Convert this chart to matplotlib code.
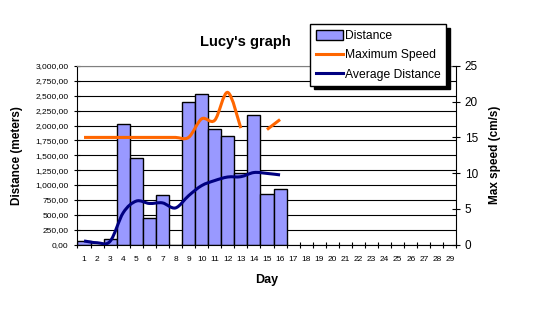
import numpy as np
import matplotlib.pyplot as plt
from matplotlib.path import Path
from matplotlib.patches import PathPatch, Patch
from matplotlib.lines import Line2D

plt.rcParams['font.family'] = ['Liberation Sans', 'DejaVu Sans']

# data
days = list(range(1, 30))
distance = [60, 0, 100, 2030, 1460, 450, 825, 0, 2400, 2525, 1945, 1830, 1205, 2170, 855, 940]
max_speed = [15, 15, 15, 15, 15, 15, 15, 15, 15, 17.6, 17.4, 21.3, 16.3, None, 16.1, 17.5]
avg_distance = [60, 30, 55, 535, 730, 690, 700, 615, 820, 990, 1075, 1135, 1140, 1210, 1195, 1170]

left_ticks = [0, 250, 500, 750, 1000, 1250, 1500, 1750, 2000, 2250, 2500, 2750, 3000]
left_tick_labels = ["0,00", "250,00", "500,00", "750,00", "1,000,00", "1,250,00", "1,500,00",
                    "1,750,00", "2,000,00", "2,250,00", "2,500,00", "2,750,00", "3,000,00"]
right_ticks = [0, 5, 10, 15, 20, 25]

BAR_COLOR = "#9999FF"
ORANGE = "#FF6600"
NAVY = "#000080"


def smooth_path(xs, ys):
    # excel style smoothed line, drawn as bezier segments through the points
    pts = np.column_stack([xs, ys]).astype(float)
    n = len(pts)
    verts = [pts[0]]
    codes = [Path.MOVETO]
    for i in range(n - 1):
        p0 = pts[max(i - 1, 0)]
        p1 = pts[i]
        p2 = pts[i + 1]
        p3 = pts[min(i + 2, n - 1)]
        verts += [p1 + (p2 - p0) / 6, p2 - (p3 - p1) / 6, p2]
        codes += [Path.CURVE4] * 3
    return Path(verts, codes)


def segments(xs, ys):
    segs, cur = [], []
    for x, y in zip(xs, ys):
        if y is None:
            if cur:
                segs.append(cur)
            cur = []
        else:
            cur.append((x, y))
    if cur:
        segs.append(cur)
    return segs


fig = plt.figure(figsize=(5.48, 3.30), dpi=100)
ax = fig.add_axes([0.1414, 0.259, 0.6916, 0.541])

ax.bar(days[:len(distance)], distance, width=1.0, color=BAR_COLOR, edgecolor="black",
       linewidth=1.0, zorder=2)

for seg in segments(days, avg_distance):
    sx, sy = zip(*seg)
    ax.add_patch(PathPatch(smooth_path(sx, sy), fill=False, edgecolor=NAVY, lw=2.2,
                           zorder=3, capstyle="butt"))

ax.set_xlim(0.5, 29.5)
ax.set_ylim(0, 3000)
ax.set_yticks(left_ticks)
ax.set_yticklabels(left_tick_labels, fontsize=6)
ax.set_xticks(days)
ax.set_xticklabels([str(d) for d in days], fontsize=6)
ax.set_xticks(np.arange(0.5, 30, 1), minor=True)
ax.tick_params(axis="x", which="major", length=0, pad=8)
ax.tick_params(axis="x", which="minor", length=5, direction="inout", width=0.8)
ax.tick_params(axis="y", length=5, direction="inout", width=0.8, pad=4)
ax.yaxis.grid(True, color="black", linewidth=0.8)
ax.set_axisbelow(True)
ax.spines["top"].set_color("#808080")
ax.spines["right"].set_visible(False)
for s in ("left", "bottom"):
    ax.spines[s].set_linewidth(0.8)

ax.set_xlabel("Day", fontsize=9, fontweight="bold", labelpad=8)
ax.set_ylabel("Distance (meters)", fontsize=8.5, fontweight="bold", labelpad=9)

ax2 = ax.twinx()
for seg in segments(days, max_speed):
    sx, sy = zip(*seg)
    ax2.add_patch(PathPatch(smooth_path(sx, sy), fill=False, edgecolor=ORANGE, lw=2.2,
                            capstyle="butt"))
ax2.set_ylim(0, 25)
ax2.set_yticks(right_ticks)
ax2.set_yticklabels([str(t) for t in right_ticks], fontsize=8.5)
ax2.tick_params(axis="y", length=6, direction="inout", width=0.8, pad=3)
ax2.spines["top"].set_visible(False)
ax2.spines["left"].set_visible(False)
ax2.spines["bottom"].set_visible(False)
ax2.spines["right"].set_linewidth(0.8)
ax2.set_ylabel("Max speed (cm/s)", fontsize=8.5, fontweight="bold", labelpad=8)

fig.text(0.447, 0.872, "Lucy's graph", fontsize=10.5, fontweight="bold", ha="center", va="center")

handles = [
    Patch(facecolor=BAR_COLOR, edgecolor="black", linewidth=1.0),
    Line2D([], [], color=ORANGE, lw=2.2),
    Line2D([], [], color=NAVY, lw=2.2),
]
leg = fig.legend(handles, ["Distance", "Maximum Speed", "Average Distance"],
                 loc="upper left", bbox_to_anchor=(0.566, 0.927), fontsize=8.7,
                 frameon=True, fancybox=False, borderaxespad=0, handlelength=2.3,
                 handleheight=0.9, handletextpad=0.15, borderpad=0.45, labelspacing=0.6,
                 shadow={"color": "black", "alpha": 1, "ox": 2.5, "oy": -2.5})
leg.get_frame().set_edgecolor("black")
leg.get_frame().set_linewidth(1.0)
leg.set_zorder(10)

fig.savefig("out.png", dpi=100)
